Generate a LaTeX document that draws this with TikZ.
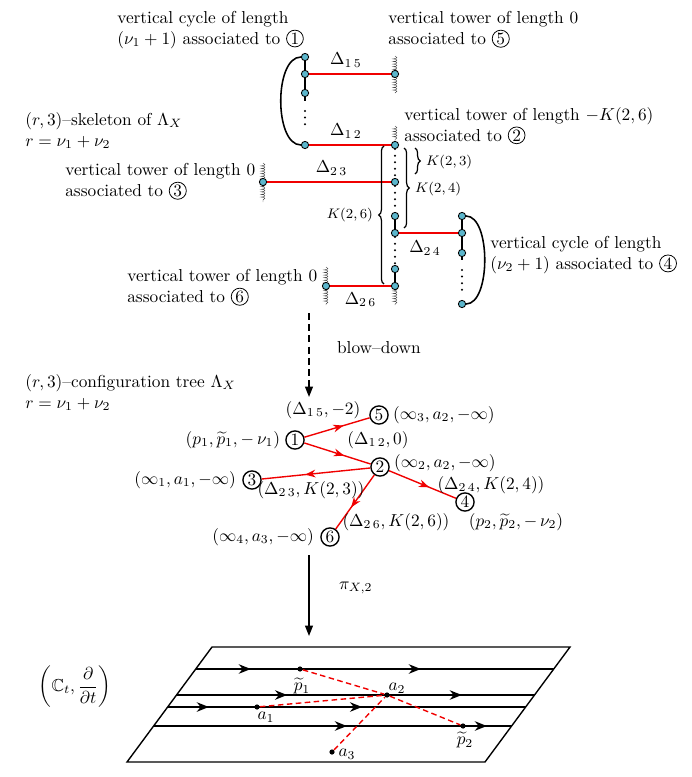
\documentclass[tikz,border=0pt]{standalone}
\usepackage{amsmath,amssymb}
\usetikzlibrary{arrows.meta,decorations.pathreplacing,decorations.pathmorphing,decorations.markings,calc}
\definecolor{nodeblue}{RGB}{92,182,204}
\definecolor{edgered}{RGB}{240,0,0}
\newcommand{\circnum}[1]{\tikz[baseline=(cn.base)]\node[draw,circle,inner sep=0.5pt,line width=0.45pt](cn){#1};}
\begin{document}
\begin{tikzpicture}[x=0.578pt,y=-0.578pt,
  sknode/.style={circle,draw,fill=nodeblue,inner sep=0pt,minimum size=4.2pt,line width=0.5pt},
  skline/.style={line width=0.9pt},
  dotcol/.style={line width=1.3pt,line cap=round,dash pattern=on 0pt off 3.8pt},
  redline/.style={edgered,line width=0.9pt},
  tower/.style={decorate,decoration={coil,amplitude=1.1pt,segment length=1.5pt,aspect=0.5},line width=0.25pt,black!75},
  lbl/.style={align=left,anchor=north west,inner sep=0pt},
  tnode/.style={circle,draw,line width=0.8pt,inner sep=0.6pt,minimum size=10.5pt},
  tedge/.style={edgered,line width=0.8pt,postaction={decorate},decoration={markings,mark=at position 0.6 with {\arrow{Stealth[length=6pt,width=4.5pt]}}}},
  bigarrow/.style={line width=0.9pt,-{Triangle[length=6pt,width=4.5pt]}},
  flowline/.style 2 args={line width=0.8pt,postaction={decorate},decoration={markings,mark=at position #1 with {\arrow{Stealth[length=7pt,width=5.5pt]}},mark=at position #2 with {\arrow{Stealth[length=7pt,width=5.5pt]}}}},
  dotpt/.style={circle,fill,inner sep=0pt,minimum size=3pt},
  reddash/.style={edgered,line width=0.8pt,dash pattern=on 3.2pt off 2pt},
  brc/.style={decorate,decoration={brace,amplitude=3pt},line width=0.7pt}]
\useasboundingbox (0,0) rectangle (692,777);

% ---------- texts (top) ----------
\node[lbl] (tA) at (117,11) {vertical cycle of length\\$(\nu_1+1)$ associated to \circnum{1}};
\node[lbl] (tB) at (388,11) {vertical tower of length 0\\associated to \circnum{5}};
\node[lbl] (tC) at (404,107) {vertical tower of length $-K(2,6)$\\associated to \circnum{2}};
\node[lbl] (tD) at (25,112) {$(r,3)$–skeleton of $\Lambda_X$\\$r=\nu_1+\nu_2$};
\node[lbl] (tE) at (65,163) {vertical tower of length 0\\associated to \circnum{3}};
\node[lbl] (tF) at (127,269) {vertical tower of length 0\\associated to \circnum{6}};
\node[lbl] (tG) at (490,236) {vertical cycle of length\\$(\nu_2+1)$ associated to \circnum{4}};

% ---------- tower hatches ----------
\draw[tower] (395,56) -- (395,93);
\draw[tower] (395,126) -- (395,142);
\draw[tower] (263,163) -- (263,202);
\draw[tower] (326,267) -- (326,305);
\draw[tower] (395,288) -- (395,305);

% ---------- skeleton nodes ----------
\node[sknode] (c1a) at (305,57) {};
\node[sknode] (c1b) at (305,74) {};
\node[sknode] (c1c) at (305,93) {};
\node[sknode] (c1d) at (305,145) {};
\coordinate (c1s) at (305,101);
\coordinate (c1t) at (305,111);
\coordinate (c1u) at (305,130);

\node[sknode] (w5) at (395,74) {};
\node[sknode] (c2a) at (395,145) {};
\node[sknode] (c2b) at (395,182) {};
\node[sknode] (c2c) at (395,216) {};
\node[sknode] (c2d) at (395,233) {};
\node[sknode] (c2e) at (395,269) {};
\node[sknode] (c2f) at (395,286) {};
\node[sknode] (w3) at (263,182) {};
\node[sknode] (w6) at (326,286) {};

\node[sknode] (c4a) at (462,216) {};
\node[sknode] (c4b) at (462,233) {};
\node[sknode] (c4c) at (462,253) {};
\node[sknode] (c4d) at (462,304) {};
\coordinate (c4s) at (462,260);
\coordinate (c4t) at (462,270);
\coordinate (c4u) at (462,292);

% cycle 1
\draw[skline] (c1a) -- (c1b) -- (c1c) -- (c1s);
\draw[dotcol] (c1t) -- (c1u);
\draw[skline] (c1a) .. controls (274,57) and (274,145) .. (c1d);
% column of 2
\draw[dotcol] (c2a) -- (c2b);
\draw[dotcol] (c2b) -- (c2c);
\draw[skline] (c2c) -- (c2d);
\draw[dotcol] (c2d) -- (c2e);
\draw[skline] (c2e) -- (c2f);
% cycle 4
\draw[skline] (c4a) -- (c4b) -- (c4c) -- (c4s);
\draw[dotcol] (c4t) -- (c4u);
\draw[skline] (c4a) .. controls (491,216) and (491,304) .. (c4d);

% red connections
\draw[redline] (c1b) -- node[above,text=black,pos=0.45] (d15) {$\Delta_{1\,5}$} (w5);
\draw[redline] (c1d) -- node[above,text=black,pos=0.45] (d12) {$\Delta_{1\,2}$} (c2a);
\draw[redline] (w3) -- node[above,text=black,pos=0.52] (d23) {$\Delta_{2\,3}$} (c2b);
\draw[redline] (c2d) -- (c4b);
\node (d24) at (425,248) {$\Delta_{2\,4}$};
\draw[redline] (w6) -- node[below,text=black,pos=0.5] (d26) {$\Delta_{2\,6}$} (c2f);

% braces
\draw[brc] (384,284) -- (384,146);
\node[anchor=east,font=\footnotesize] (k26) at (379,215) {$K(2,6)$};
\draw[brc] (404,148) -- (404,228);
\node[anchor=west,font=\footnotesize] (k24) at (409,189) {$K(2,4)$};
\draw[brc] (415,148) -- (415,174);
\node[anchor=west,font=\footnotesize] (k23) at (420,162) {$K(2,3)$};

% ---------- blow-down ----------
\coordinate (bd1) at (309,313);
\coordinate (bd2) at (309,397);
\draw[bigarrow,dash pattern=on 4pt off 2.5pt] (bd1) -- (bd2);
\node[anchor=west] (bdl) at (331,348) {blow–down};

\node[lbl] (tH) at (25,374) {$(r,3)$–configuration tree $\Lambda_X$\\$r=\nu_1+\nu_2$};

% ---------- tree ----------
\node[tnode] (t1) at (295,440) {1};
\node[tnode] (t5) at (379,415) {5};
\node[tnode] (t2) at (380,467) {2};
\node[tnode] (t3) at (252,480) {3};
\node[tnode] (t4) at (465,502) {4};
\node[tnode] (t6) at (330,537) {6};
\draw[tedge] (t1) -- (t5);
\draw[tedge] (t1) -- (t2);
\draw[tedge] (t2) -- (t3);
\draw[tedge] (t2) -- (t4);
\draw[tedge] (t2) -- (t6);

\node[anchor=east,inner sep=1.5pt] (l1) at (283,440) {$(p_1,\widetilde{p}_1,-\,\nu_1)$};
\node[anchor=west] (l5) at (387,415) {$(\infty_3,a_2,-\infty)$};
\node (l15) at (323,410) {$(\Delta_{1\,5},-2)$};
\node (l12) at (378,440) {$(\Delta_{1\,2},0)$};
\node[anchor=west] (l2) at (388,463) {$(\infty_2,a_2,-\infty)$};
\node[anchor=east] (l3) at (242,480) {$(\infty_1,a_1,-\infty)$};
\node (l23) at (311,490) {$(\Delta_{2\,3},K(2,3))$};
\node (l24) at (491,485) {$(\Delta_{2\,4},K(2,4))$};
\node (l4) at (516,522) {$(p_2,\widetilde{p}_2,-\,\nu_2)$};
\node[anchor=east] (l6) at (320,537) {$(\infty_4,a_3,-\infty)$};
\node (l26) at (396,522) {$(\Delta_{2\,6},K(2,6))$};

% ---------- projection ----------
\coordinate (pr1) at (309,555);
\coordinate (pr2) at (309,636);
\draw[bigarrow] (pr1) -- (pr2);
\node[anchor=west] (prl) at (333,588) {$\pi_{X,2}$};

% ---------- plane ----------
\coordinate (P1) at (127,762);
\coordinate (P2) at (485,762);
\coordinate (P3) at (570,647);
\coordinate (P4) at (212,647);
\draw[line width=0.8pt] (P1) -- (P2) -- (P3) -- (P4) -- cycle;
\coordinate (L1a) at (195.7,669); \coordinate (L1b) at (553.7,669);
\coordinate (L2a) at (176.5,695); \coordinate (L2b) at (534.5,695);
\coordinate (L3a) at (167.7,707); \coordinate (L3b) at (525.7,707);
\coordinate (L4a) at (153.6,726); \coordinate (L4b) at (511.6,726);
\draw[flowline={0.154}{0.629}] (L1a) -- (L1b);
\draw[flowline={0.309}{0.797}] (L2a) -- (L2b);
\draw[flowline={0.115}{0.543}] (L3a) -- (L3b);
\draw[flowline={0.540}{0.931}] (L4a) -- (L4b);

\node[dotpt] (q1) at (300,669) {};
\node[dotpt] (a2) at (387,695) {};
\node[dotpt] (a1) at (257,707) {};
\node[dotpt] (q2) at (463,726) {};
\node[dotpt] (a3) at (332,752) {};
\draw[reddash] (q1) -- (a2);
\draw[reddash] (a2) -- (q2);
\draw[reddash] (a1) -- (a2);
\draw[reddash] (a3) -- (a2);
\node (lq1) at (302,686) {$\widetilde{p}_1$};
\node (la2) at (397,688) {$a_2$};
\node (la1) at (266,717) {$a_1$};
\node (lq2) at (465,740) {$\widetilde{p}_2$};
\node (la3) at (347,754) {$a_3$};

\node (ct) at (75,687) {$\left(\mathbb{C}_t,\dfrac{\partial}{\partial t}\right)$};
\end{tikzpicture}
\end{document}
